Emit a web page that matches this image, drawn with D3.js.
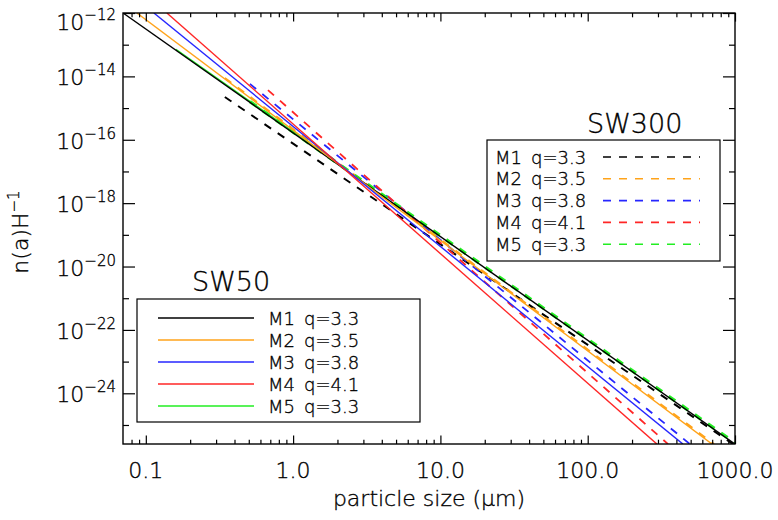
<!DOCTYPE html>
<html>
<head>
<meta charset="utf-8">
<script src="https://cdn.jsdelivr.net/npm/d3@7"></script>
<style>
  body { margin: 0; background: #fff; }
  text { font-family: "DejaVu Sans ExtraLight", "DejaVu Sans", sans-serif; font-weight: 200; fill: #000; stroke: #000; stroke-width: 0.35; }
</style>
</head>
<body>
<svg id="chart" width="778" height="520"></svg>
<script>
// ---- data ----
const models = ["M1", "M2", "M3", "M4", "M5"];
const qValues = [3.3, 3.5, 3.8, 4.1, 3.3];

// SW50 (solid): particle size at start/end (um) and n(a)H^-1 at start/end
const sw50Size = [[0.07, 1000], [0.087, 698], [0.1135, 443], [0.139, 295], [0.16, 2.0]];
const sw50N = [[1e-12, 2.5e-26], [1e-12, 2.5e-26], [1e-12, 2.5e-26], [1e-12, 2.5e-26], [7.2e-14, 1.85e-17]];

// SW300 (dashed)
const sw300Size = [[0.344, 968], [0.344, 720], [0.509, 494], [0.675, 351], [0.509, 1000]];
const sw300N = [[2.24e-15, 2.5e-26], [8.9e-15, 2.5e-26], [5.8e-15, 2.5e-26], [3.7e-15, 2.5e-26], [1.6e-15, 2.7e-26]];

const xMajor = [0.1, 1, 10, 100, 1000];
const xLabels = ["0.1", "1.0", "10.0", "100.0", "1000.0"];
const yMajorExp = [-12, -14, -16, -18, -20, -22, -24];
const yMinorExp = [-13, -15, -17, -19, -21, -23, -25];

// ---- style ----
const colors = ["#000000", "#ffa31a", "#2626ff", "#ff2626", "#22ee22"];
const dashWidth = [2, 2, 1.8, 1.8, 3.4];

const width = 778, height = 520;
const margin = { left: 123, top: 13, right: 43, bottom: 76 };
const x0 = margin.left, x1 = width - margin.right;
const y0 = margin.top, y1 = height - margin.bottom;

const svg = d3.select("#chart");

const x = d3.scaleLog().domain([0.07, 1000]).range([x0, x1]);
const y = d3.scaleLog().domain([Math.pow(10, -25.6), 1e-12]).range([y1, y0]);

svg.append("defs").append("clipPath").attr("id", "plot-clip")
  .append("rect")
  .attr("x", x0).attr("y", y0)
  .attr("width", x1 - x0).attr("height", y1 - y0);

const line = d3.line().x(d => x(d[0])).y(d => y(d[1]));
const plot = svg.append("g").attr("clip-path", "url(#plot-clip)");

// dashed SW300 lines first
models.forEach((m, i) => {
  const pts = sw300Size[i].map((a, k) => [a, sw300N[i][k]]);
  plot.append("path")
    .attr("d", line(pts))
    .attr("fill", "none")
    .attr("stroke", colors[i])
    .attr("stroke-width", dashWidth[i])
    .attr("stroke-dasharray", "8,8");
});

// solid SW50 lines (green drawn under black)
[4, 0, 1, 2, 3].forEach(i => {
  const pts = sw50Size[i].map((a, k) => [a, sw50N[i][k]]);
  plot.append("path")
    .attr("d", line(pts))
    .attr("fill", "none")
    .attr("stroke", colors[i])
    .attr("stroke-width", 1.4);
});

// ---- axes (IDL style: inward ticks on all sides) ----
const xMinor = [];
for (let e = -2; e <= 3; e++) {
  for (let k = 2; k <= 9; k++) {
    const v = k * Math.pow(10, e);
    if (v > 0.07 && v < 1000) xMinor.push(v);
  }
}
const yMajor = yMajorExp.map(e => Math.pow(10, e));
const yMinor = yMinorExp.map(e => Math.pow(10, e));

function ticks(axis, transform) {
  svg.append("g")
    .attr("transform", transform)
    .call(axis)
    .call(g => g.select(".domain").remove())
    .call(g => g.selectAll(".tick line").attr("stroke", "#000").attr("stroke-width", 1.2));
}

ticks(d3.axisBottom(x).tickValues(xMajor).tickSize(-8.6).tickFormat(""), `translate(0,${y1})`);
ticks(d3.axisBottom(x).tickValues(xMinor).tickSize(-4.3).tickFormat(""), `translate(0,${y1})`);
ticks(d3.axisTop(x).tickValues(xMajor).tickSize(-8.6).tickFormat(""), `translate(0,${y0})`);
ticks(d3.axisTop(x).tickValues(xMinor).tickSize(-4.3).tickFormat(""), `translate(0,${y0})`);
ticks(d3.axisLeft(y).tickValues(yMajor).tickSize(-12).tickFormat(""), `translate(${x0},0)`);
ticks(d3.axisLeft(y).tickValues(yMinor).tickSize(-6).tickFormat(""), `translate(${x0},0)`);
ticks(d3.axisRight(y).tickValues(yMajor).tickSize(-12).tickFormat(""), `translate(${x1},0)`);
ticks(d3.axisRight(y).tickValues(yMinor).tickSize(-6).tickFormat(""), `translate(${x1},0)`);

svg.append("rect")
  .attr("x", x0).attr("y", y0)
  .attr("width", x1 - x0).attr("height", y1 - y0)
  .attr("fill", "none").attr("stroke", "#000").attr("stroke-width", 1.4);

// x tick labels
svg.append("g").selectAll("text")
  .data(xMajor)
  .join("text")
  .attr("x", d => x(d))
  .attr("y", 478)
  .attr("text-anchor", "middle")
  .attr("font-size", 22)
  .text((d, i) => xLabels[i]);

// y tick labels 10^e
const yLab = svg.append("g").selectAll("text")
  .data(yMajorExp)
  .join("text")
  .attr("x", 116)
  .attr("y", e => Math.max(y(Math.pow(10, e)) + 9, 30))
  .attr("text-anchor", "end")
  .attr("font-size", 22);
yLab.append("tspan").text("10");
yLab.append("tspan").attr("dy", -10).attr("font-size", 15).text(e => "\u2212" + Math.abs(e));

// axis titles
const xt = svg.append("text")
  .attr("x", (x0 + x1) / 2)
  .attr("y", 506)
  .attr("text-anchor", "middle")
  .attr("font-size", 22);
xt.append("tspan").text("particle size (");
xt.append("tspan").text("\u03bc");
xt.append("tspan").text("m)");

const yt = svg.append("text")
  .attr("transform", "translate(28,232) rotate(-90)")
  .attr("text-anchor", "middle")
  .attr("font-size", 22);
yt.append("tspan").text("n(a)H");
yt.append("tspan").attr("dy", -9).attr("font-size", 15).text("\u22121");

// ---- legends ----
// SW300 (dashed)
svg.append("text").attr("x", 587).attr("y", 133).attr("font-size", 27).text("SW300");
svg.append("rect")
  .attr("x", 487).attr("y", 140).attr("width", 233).attr("height", 121)
  .attr("fill", "#fff").attr("stroke", "#000").attr("stroke-width", 1.2);
models.forEach((m, i) => {
  const cy = 157 + i * 21.8;
  svg.append("text").attr("x", 495).attr("y", cy + 6.5).attr("font-size", 18).text(m);
  svg.append("text").attr("x", 531).attr("y", cy + 6.5).attr("font-size", 18).text("q=" + qValues[i].toFixed(1));
  svg.append("line")
    .attr("x1", 603).attr("x2", 700).attr("y1", cy).attr("y2", cy)
    .attr("stroke", colors[i]).attr("stroke-width", 1.6)
    .attr("stroke-dasharray", "8,8");
});

// SW50 (solid)
svg.append("text").attr("x", 192).attr("y", 291).attr("font-size", 27).text("SW50");
svg.append("rect")
  .attr("x", 137).attr("y", 299).attr("width", 283).attr("height", 123)
  .attr("fill", "#fff").attr("stroke", "#000").attr("stroke-width", 1.2);
models.forEach((m, i) => {
  const cy = 318 + i * 22;
  svg.append("line")
    .attr("x1", 158).attr("x2", 254).attr("y1", cy).attr("y2", cy)
    .attr("stroke", colors[i]).attr("stroke-width", 1.6);
  svg.append("text").attr("x", 268).attr("y", cy + 6.5).attr("font-size", 18).text(m);
  svg.append("text").attr("x", 304).attr("y", cy + 6.5).attr("font-size", 18).text("q=" + qValues[i].toFixed(1));
});
</script>
</body>
</html>
